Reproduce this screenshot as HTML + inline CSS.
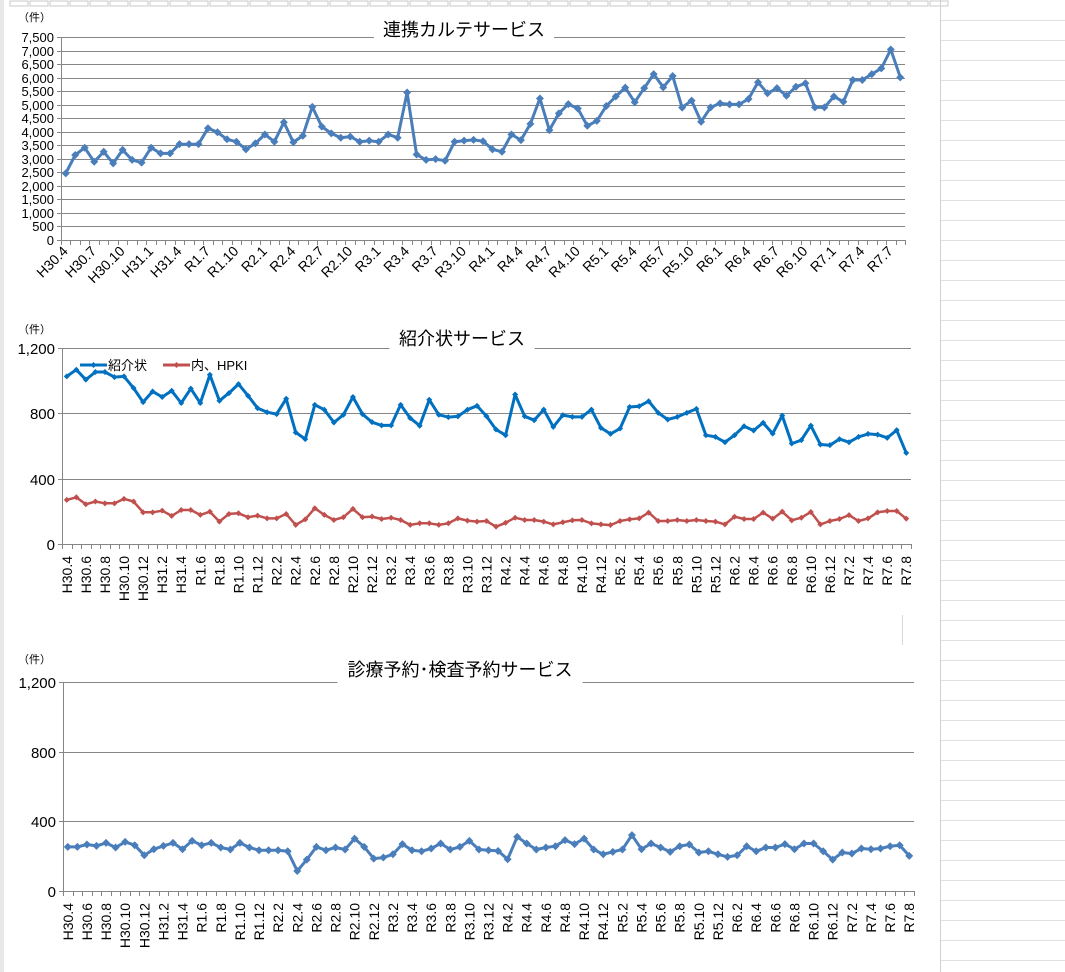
<!DOCTYPE html>
<html><head><meta charset="utf-8"><style>
html,body{margin:0;padding:0;background:#fff;}
svg{display:block;font-family:"Liberation Sans","Noto Sans CJK JP",sans-serif;}
</style></head><body>
<svg id="s" width="1065" height="972" viewBox="0 0 1065 972"></svg>
<script>
const renkeiValues=[2460,3140,3410,2890,3260,2830,3330,2960,2860,3410,3200,3200,3540,3540,3540,4130,3980,3720,3630,3350,3570,3900,3630,4350,3610,3850,4920,4190,3940,3780,3820,3630,3670,3630,3900,3780,5450,3160,2960,2990,2930,3630,3670,3700,3650,3350,3260,3900,3690,4290,5230,4060,4680,5020,4860,4220,4400,4950,5300,5630,5090,5610,6130,5640,6060,4890,5150,4370,4900,5050,5010,5010,5210,5830,5420,5610,5330,5660,5790,4900,4900,5300,5110,5910,5910,6130,6340,7040,6010];
const shokaiValues=[1026,1067,1006,1053,1053,1022,1026,955,869,934,900,938,863,951,863,1036,877,924,979,908,832,807,795,889,683,642,852,822,744,791,900,795,746,726,726,852,771,724,883,791,777,781,822,846,782,701,666,915,782,758,823,717,789,778,778,823,711,674,707,839,843,874,803,762,778,803,827,666,656,623,666,721,695,742,676,786,615,636,725,609,605,642,623,656,674,670,650,697,558];
const hpkiValues=[270,286,243,260,249,249,276,260,194,194,204,172,208,208,178,198,137,184,188,164,174,157,157,184,117,151,219,178,147,164,215,164,168,153,161,147,117,127,127,117,127,157,143,137,141,106,130,161,147,147,137,120,133,145,147,126,120,116,141,151,157,192,141,141,147,141,147,141,137,120,167,153,153,192,155,198,145,161,196,120,141,153,177,141,157,194,202,202,155];
const yoyakuValues=[253,253,267,259,276,250,282,263,205,240,259,276,240,288,263,276,250,238,276,250,234,234,234,228,115,180,253,234,250,238,301,253,186,192,211,269,234,228,244,273,238,253,288,238,234,230,182,311,273,238,250,257,292,269,301,238,211,225,238,321,240,273,250,225,257,267,221,228,211,196,205,257,228,250,250,269,240,273,273,228,180,221,215,244,240,244,257,263,202];
const chart1Ticks=[0,500,1000,1500,2000,2500,3000,3500,4000,4500,5000,5500,6000,6500,7000,7500];
const chart23Ticks=[0,400,800,1200];
const startYear=2018,startMonth=4;

const NS='http://www.w3.org/2000/svg';
const svg=document.getElementById('s');
function el(tag,attrs,parent,text){const e=document.createElementNS(NS,tag);for(const k in attrs)e.setAttribute(k,attrs[k]);if(text!==undefined)e.textContent=text;(parent||svg).appendChild(e);return e;}
function catLabel(i){let m=startMonth-1+i;let y=startYear+Math.floor(m/12);m=m%12+1;
  if(y<2019||(y===2019&&m<=4))return 'H'+(y-1988)+'.'+m;return 'R'+(y-2018)+'.'+m;}
function fmt(v){return v.toLocaleString('en-US');}

const bg=el('g',{});


el('rect',{x:0,y:0,width:4,height:972,fill:'#e8e8e8'},bg);
for(let x=10;x<935;x+=20){el('rect',{x:x,y:1,width:18,height:5,fill:'none',stroke:'#c8c8c8','stroke-width':1},bg);}
el('line',{x1:940.5,y1:0,x2:940.5,y2:972,stroke:'#d0d0d0'},bg);
for(let y=20;y<972;y+=20){el('line',{x1:941,y1:y+0.5,x2:1065,y2:y+0.5,stroke:'#e0e0e0'},bg);}
el('line',{x1:902.5,y1:615,x2:902.5,y2:645,stroke:'#d8d8d8'},bg);

function drawChart(cfg){
  const g=el('g',{});
  
  
  const n=cfg.series[0].values.length;
  const w=(cfg.x1-cfg.x0)/n;
  const xs=i=>cfg.x0+w*(i+0.5);
  const ys=v=>cfg.y0-(v/cfg.max)*(cfg.y0-cfg.yTop);
  cfg.ticks.forEach(t=>{
    const y=Math.round(ys(t))+0.5;
    const gl=el('line',{x1:cfg.x0,y1:y,x2:cfg.x1,y2:y,stroke:'#868686','stroke-width':1},g);
    
    
    el('line',{x1:cfg.x0-4,y1:y,x2:cfg.x0,y2:y,stroke:'#868686'},g);
    const tl=el('text',{x:cfg.x0-7,y:y+cfg.yfs*0.36,'text-anchor':'end','font-size':cfg.yfs,fill:'#000'},g,fmt(t));
    
    
  });
  el('line',{x1:cfg.x0+0.5,y1:cfg.yTop,x2:cfg.x0+0.5,y2:cfg.y0,stroke:'#868686'},g);
  for(let i=0;i<=n;i++){const x=Math.round(cfg.x0+w*i)+0.5;el('line',{x1:x,y1:cfg.y0,x2:x,y2:cfg.y0+5,stroke:'#868686'},g);}
  for(let i=0;i<n;i+=cfg.step){
    const x=xs(i);
    let t;
    if(cfg.rot===-45){t=el('text',{x:x+3,y:cfg.y0+12,'text-anchor':'end','font-size':cfg.xfs,transform:'rotate(-45 '+(x+3)+' '+(cfg.y0+12)+')'},g,catLabel(i));}
    else{t=el('text',{x:x+5,y:cfg.y0+12,'text-anchor':'end','font-size':cfg.xfs,transform:'rotate(-90 '+(x+5)+' '+(cfg.y0+12)+')'},g,catLabel(i));}
    
    
  }
  el('rect',{x:cfg.tx-cfg.tw/2-5,y:cfg.yTop-18,width:cfg.tw+10,height:20,fill:'#fff'},g);
  const tt=el('text',{x:cfg.tx,y:cfg.ty,'text-anchor':'middle','font-size':18,fill:'#000'},g,cfg.title);
  
  
  const un=el('text',{x:cfg.ux,y:cfg.uy,'font-size':11,fill:'#000'},g,'（件）');
  
  
  cfg.series.forEach(s=>{
    const pts=s.values.map((v,i)=>xs(i).toFixed(1)+','+ys(v).toFixed(1)).join(' ');
    const pl=el('polyline',{points:pts,fill:'none',stroke:s.color,'stroke-width':s.sw,'stroke-linejoin':'round'},g);
    
    
    s.values.forEach((v,i)=>{
      const cx=xs(i),cy=ys(v),r=s.mr;
      const m=el('path',{d:`M${cx} ${cy-r}L${cx+r} ${cy}L${cx} ${cy+r}L${cx-r} ${cy}Z`,fill:s.color},g);
      
      
    });
  });
  return g;
}

drawChart({name:'renkei-karte-chart',x0:61,x1:905,y0:240,yTop:37,max:7500,ticks:chart1Ticks,yfs:13,xfs:14,step:3,rot:-45,
  title:'連携カルテサービス',tx:464,ty:36,tw:170,ux:18,uy:21,
  series:[{name:'renkei',values:renkeiValues,color:'#4a7ebb',sw:3,mr:4}]});
drawChart({name:'shokaijo-chart',x0:62,x1:911,y0:544,yTop:348,max:1200,ticks:chart23Ticks,yfs:15,xfs:14,step:2,rot:-90,
  title:'紹介状サービス',tx:462,ty:345,tw:135,ux:18,uy:333,
  series:[{name:'shokaijo',values:shokaiValues,color:'#0070c0',sw:3,mr:3},{name:'hpki',values:hpkiValues,color:'#c0504d',sw:2.5,mr:3}]});
drawChart({name:'shinryo-yoyaku-chart',x0:63,x1:914,y0:891,yTop:682,max:1200,ticks:chart23Ticks,yfs:15,xfs:14,step:2,rot:-90,
  title:'診療予約･検査予約サービス',tx:460,ty:676,tw:235,ux:18,uy:663,
  series:[{name:'yoyaku',values:yoyakuValues,color:'#4a7ebb',sw:3,mr:4}]});

const lg=el('g',{});


const l1=el('g',{},lg);


el('line',{x1:80,y1:365,x2:107,y2:365,stroke:'#0070c0','stroke-width':3},l1);
el('path',{d:'M93.5 362L96.5 365L93.5 368L90.5 365Z',fill:'#0070c0'},l1);
el('text',{x:108,y:370,'font-size':13},l1,'紹介状');
const l2=el('g',{},lg);


el('line',{x1:163,y1:365,x2:190,y2:365,stroke:'#c0504d','stroke-width':3},l2);
el('path',{d:'M176.5 362L179.5 365L176.5 368L173.5 365Z',fill:'#c0504d'},l2);
el('text',{x:191,y:370,'font-size':13},l2,'内、HPKI');
</script>
</body></html>
